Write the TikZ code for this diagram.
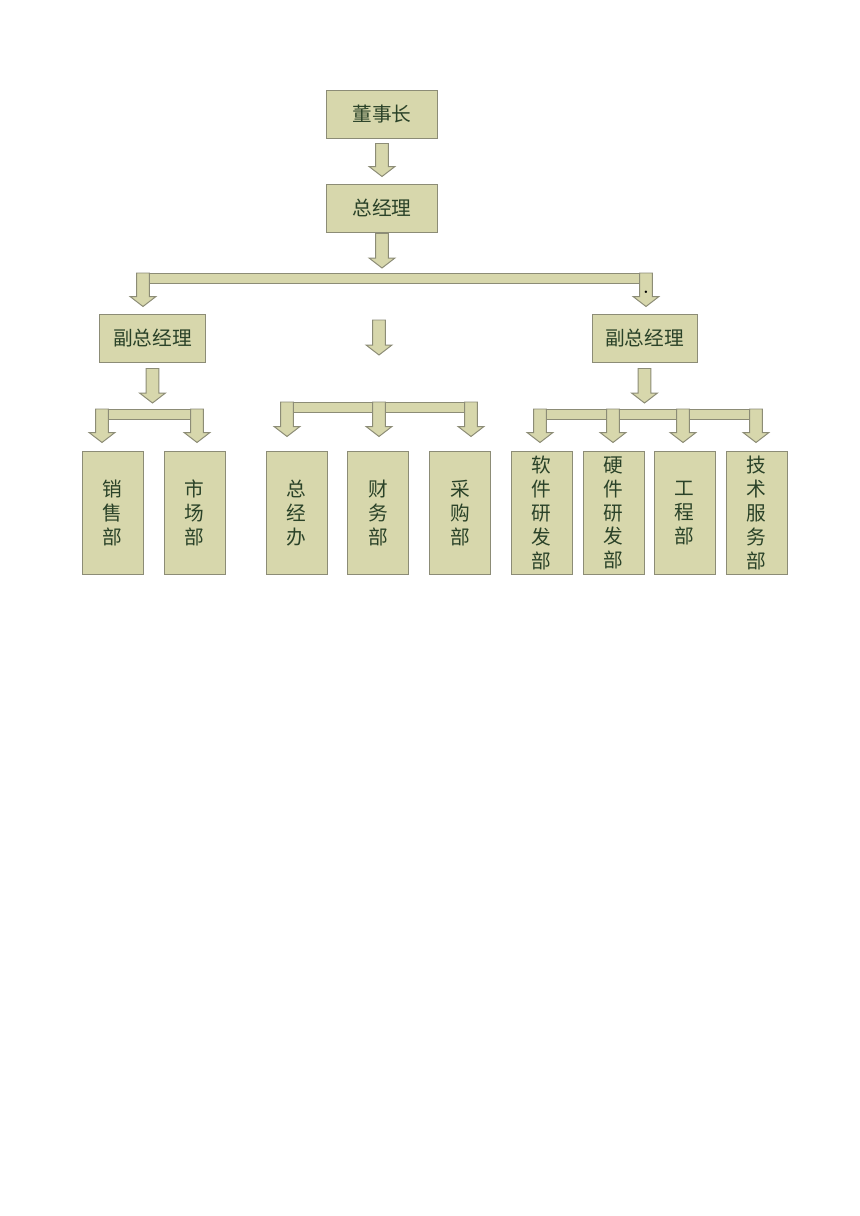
\documentclass[tikz,border=0pt]{standalone}
\usepackage{fontspec}
\newfontfamily\cjk{Noto Sans CJK SC}
\usetikzlibrary{calc}
\definecolor{boxfill}{RGB}{215,215,172}
\definecolor{boxline}{RGB}{140,140,118}
\definecolor{txtgreen}{RGB}{42,66,40}
\tikzset{
    box/.style={draw=boxline, fill=boxfill, line width=0.7pt, text=txtgreen,
        font=\cjk\fontsize{14}{17}\selectfont, inner sep=0pt, align=center},
    topbox/.style={box, minimum width=2.75cm, minimum height=1.2cm},
    vpbox/.style={box, minimum width=2.625cm, minimum height=1.2cm},
    deptbox/.style={box, minimum width=1.525cm, minimum height=3.05cm},
    barbox/.style={draw=boxline, fill=boxfill, line width=0.7pt}
}
% block arrow pointing down, from #1 to the height of #2
\newcommand{\blockdown}[2]{%
    \path[barbox] let \p1=#1, \p2=#2 in
        (\x1-4.6pt,\y1) -- (\x1+4.6pt,\y1) -- (\x1+4.6pt,\y2+7.1pt)
        -- (\x1+9.2pt,\y2+7.1pt) -- (\x1,\y2) -- (\x1-9.2pt,\y2+7.1pt)
        -- (\x1-4.6pt,\y2+7.1pt) -- cycle;}
\begin{document}
\begin{tikzpicture}[x=0.025cm, y=-0.025cm]
    \useasboundingbox (0,0) rectangle (860,1216);

    % boxes
    \node[topbox] (ceo) at (382,114) {董事长};
    \node[topbox] (gm) at (382,208) {总经理};
    \node[vpbox] (vpl) at (152.5,338) {副总经理};
    \node[vpbox] (vpr) at (644.5,338) {副总经理};

    \node[deptbox] (sales) at (112.5,513) {销\\售\\部};
    \node[deptbox] (market) at (194.5,513) {市\\场\\部};
    \node[deptbox] (office) at (296.5,513) {总\\经\\办};
    \node[deptbox] (finance) at (378,513) {财\\务\\部};
    \node[deptbox] (purchase) at (460,513) {采\\购\\部};
    \node[deptbox] (soft) at (541.5,513) {软\\件\\研\\发\\部};
    \node[deptbox] (hard) at (613.5,513) {硬\\件\\研\\发\\部};
    \node[deptbox] (eng) at (684.5,513) {工\\程\\部};
    \node[deptbox] (tech) at (756.5,513) {技\\术\\服\\务\\部};

    % branch points on the bars
    \coordinate (t1) at (143,273);
    \coordinate (t2) at (646,273);
    \coordinate (l1) at (102,409);
    \coordinate (l2) at (197,409);
    \coordinate (m1) at (287,402);
    \coordinate (m2) at (379,402);
    \coordinate (m3) at (471,402);
    \coordinate (r1) at (540,409);
    \coordinate (r2) at (613,409);
    \coordinate (r3) at (683,409);
    \coordinate (r4) at (756,409);
    \coordinate (mid) at (379,320);
    \coordinate (midtip) at (379,355);

    % bars
    \draw[barbox] ($(t1)+(-6.5,0)$) rectangle ($(t2)+(6.5,10.5)$);
    \draw[barbox] ($(l1)+(-6.5,0)$) rectangle ($(l2)+(6.5,10.5)$);
    \draw[barbox] ($(m1)+(-6.5,0)$) rectangle ($(m3)+(6.5,10.5)$);
    \draw[barbox] ($(r1)+(-6.5,0)$) rectangle ($(r4)+(6.5,10.5)$);

    % arrows
    \blockdown{($(ceo.south)+(0,5)$)}{($(gm.north)+(0,-7)$)}
    \blockdown{($(gm.south)+(0,1)$)}{($(t1)+(0,-5)$)}
    \blockdown{(t1)}{($(vpl.north)+(0,-7)$)}
    \blockdown{(t2)}{($(vpr.north)+(0,-7)$)}
    \blockdown{(mid)}{(midtip)}
    \blockdown{($(vpl.south)+(0,6)$)}{($(l1)+(0,-6)$)}
    \blockdown{($(vpr.south)+(0,6)$)}{($(r1)+(0,-6)$)}
    \foreach \br in {l1,l2,r1,r2,r3,r4}
        \blockdown{(\br)}{($(sales.north)+(0,-9)$)};
    \foreach \br in {m1,m2,m3}
        \blockdown{(\br)}{($(office.north)+(0,-15)$)};

    \node[anchor=base, inner sep=0pt, font=\bfseries\large] (dot) at (646,293) {.};
\end{tikzpicture}
\end{document}
